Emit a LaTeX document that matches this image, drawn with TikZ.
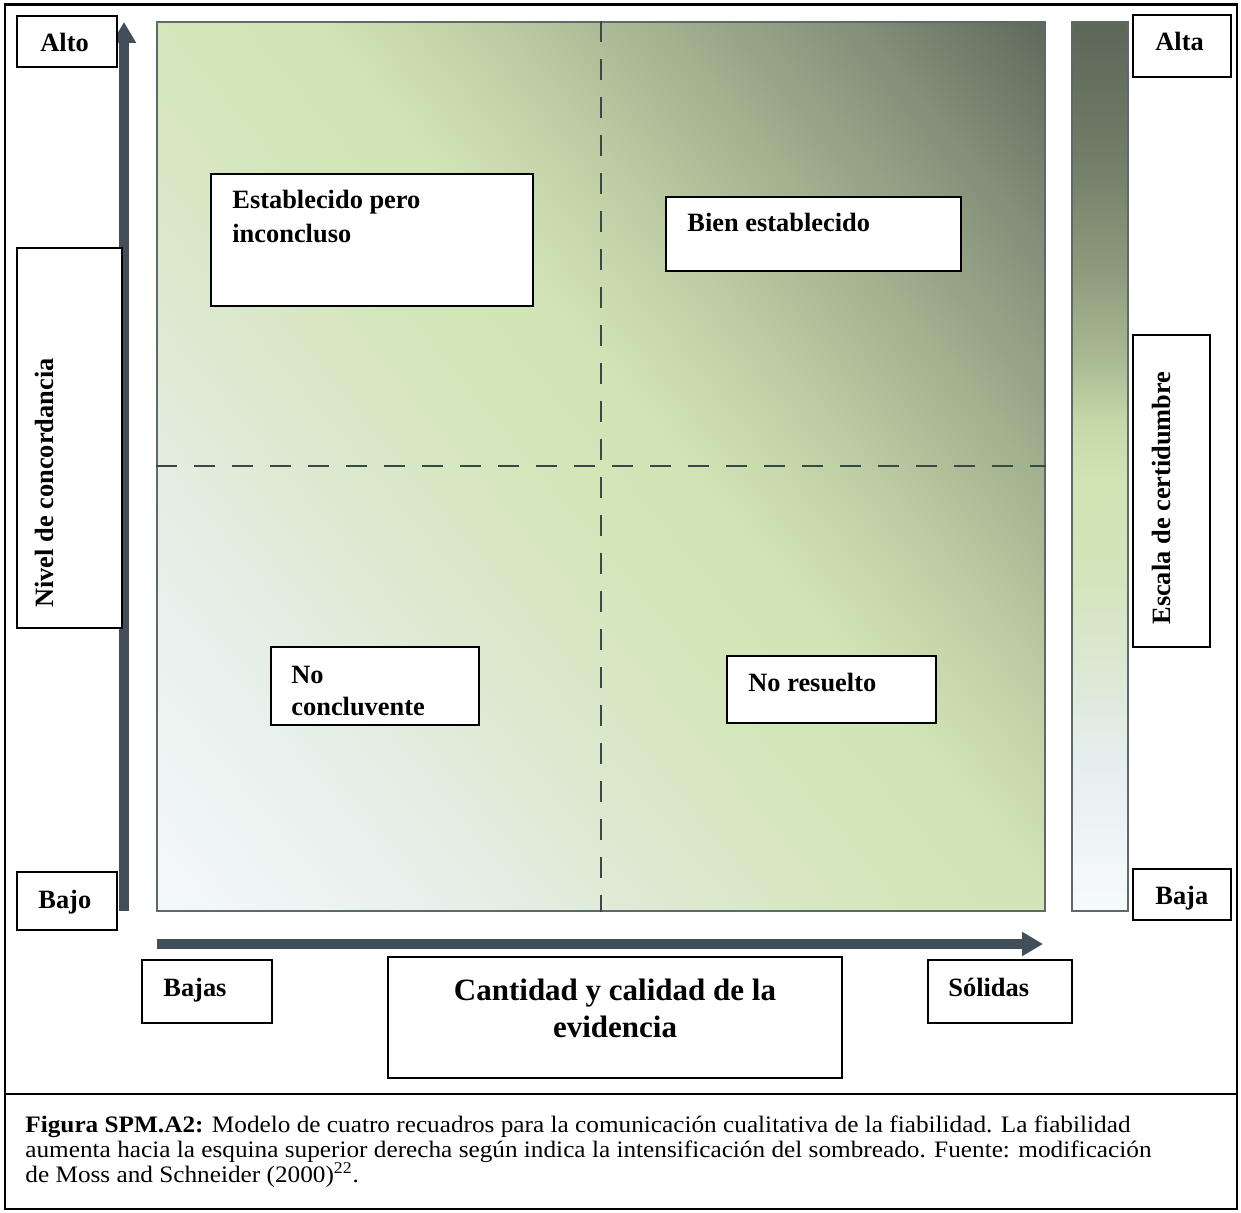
\documentclass[tikz,border=0pt]{standalone}
\usepackage{graphicx}
\usepackage{fontspec}
\setmainfont{Liberation Serif}
\usetikzlibrary{arrows.meta,fit}
\definecolor{arrowc}{HTML}{434F58}
\definecolor{sqborder}{HTML}{5E6A6A}
\definecolor{dashc}{HTML}{3B4646}
% main square gradient colours (bottom-left -> top-right)
\definecolor{g0}{HTML}{F6F9FA}
\definecolor{g1}{HTML}{E8F1EE}
\definecolor{g2}{HTML}{DCE9D0}
\definecolor{g3}{HTML}{D3E6B9}
\definecolor{g4}{HTML}{D2E5B6}
\definecolor{g5}{HTML}{C0D0A6}
\definecolor{g6}{HTML}{A3B28F}
\definecolor{g7}{HTML}{83907A}
\definecolor{g8}{HTML}{5B6558}
% bar gradient colours (bottom -> top)
\definecolor{b0}{HTML}{F7FAFB}
\definecolor{b1}{HTML}{E6EFF0}
\definecolor{b2}{HTML}{DBE8D2}
\definecolor{b3}{HTML}{D3E5BB}
\definecolor{b4}{HTML}{D0E4B4}
\definecolor{b5}{HTML}{C4D8A8}
\definecolor{b6}{HTML}{A9BA93}
\definecolor{b7}{HTML}{8D9B7C}
\definecolor{b8}{HTML}{707D68}
\definecolor{b9}{HTML}{5C6758}
\pgfdeclarehorizontalshading{sqshade}{100bp}{color(0bp)=(g0); color(25bp)=(g0); color(33.3bp)=(g1); color(41.3bp)=(g2); color(48.4bp)=(g3); color(52.4bp)=(g4); color(57.1bp)=(g5); color(62.7bp)=(g6); color(68.7bp)=(g7); color(75bp)=(g8); color(100bp)=(g8)}
\pgfdeclareverticalshading{barshade}{100bp}{color(0bp)=(b0); color(25bp)=(b0); color(33bp)=(b1); color(39bp)=(b2); color(44bp)=(b3); color(49bp)=(b4); color(52.5bp)=(b5); color(56bp)=(b6); color(61bp)=(b7); color(67.5bp)=(b8); color(75bp)=(b9); color(100bp)=(b9)}
\tikzset{
  box/.style={draw=black, line width=1pt, fill=white, inner sep=0pt},
  lbl/.style={font=\fontsize{13.2}{15}\selectfont\bfseries, inner sep=0pt, anchor=base west},
  biglbl/.style={font=\fontsize{15.5}{18}\selectfont\bfseries, inner sep=0pt, anchor=base},
  caplbl/.style={font=\fontsize{11.8}{12.5}\selectfont, inner sep=0pt, anchor=base west},
  bigarrow/.style={draw=arrowc, line width=4.75pt, -{Triangle[length=10.5pt,width=11.5pt]}},
  quad/.style={draw=dashc, line width=1pt, dash pattern=on 10.5pt off 8.5pt},
  frameline/.style={draw=black, line width=1.1pt}
}
\newcommand{\capwide}[1]{\scalebox{1.07}[1]{#1}}
\begin{document}
\begin{tikzpicture}[x=0.5pt,y=-0.5pt]
\useasboundingbox (0,0) rectangle (1241,1213);
% outer frame
\coordinate (fA) at (5,4.5);
\coordinate (fB) at (1237,1209);
\node[frameline, fit=(fA)(fB), inner sep=0pt] (frame) {};
\coordinate (sepL) at (5,1094);
\coordinate (sepR) at (1237,1094);
\draw[frameline] (sepL) -- (sepR);

% main square with diagonal shading
\coordinate (sqA) at (157,22);
\coordinate (sqB) at (1045,911);
\coordinate (sqc) at (601,466.5);
\begin{scope}
  \clip (sqA) rectangle (sqB);
  \begin{scope}[transform canvas={rotate around={40:(sqc)}}]
    \shade[shading=sqshade] ([shift={(-640,-640)}]sqc) rectangle ([shift={(640,640)}]sqc);
  \end{scope}
\end{scope}
\node[draw=sqborder, line width=0.9pt, fit=(sqA)(sqB), inner sep=0pt] (sq) {};
\draw[quad] (sq.north) -- (sq.south);
\draw[quad] (sq.west) -- (sq.east);

% certainty bar
\coordinate (barA) at (1072,22);
\coordinate (barB) at (1128,911);
\node[draw=sqborder, line width=0.9pt, shade, shading=barshade, fit=(barA)(barB), inner sep=0pt] (bar) {};

% axes arrows
\coordinate (vA0) at (124,911);
\coordinate (vA1) at (124,22);
\draw[bigarrow] (vA0) -- (vA1);
\coordinate (hA0) at (157,944);
\coordinate (hA1) at (1043,944);
\draw[bigarrow] (hA0) -- (hA1);

% boxes
\coordinate (c1a) at (17,16);   \coordinate (c1b) at (117,67);
\node[box, fit=(c1a)(c1b)] (bAlto) {};
\node[lbl] (tAlto) at (40,52) {Alto};

\coordinate (c2a) at (17,872);  \coordinate (c2b) at (117,930);
\node[box, fit=(c2a)(c2b)] (bBajo) {};
\node[lbl] (tBajo) at (38,908) {Bajo};

\coordinate (c3a) at (17,248);  \coordinate (c3b) at (122,628);
\node[box, fit=(c3a)(c3b)] (bNivel) {};
\node[lbl, rotate=90] (tNivel) at (53,608) {Nivel de concordancia};

\coordinate (c4a) at (1133,15); \coordinate (c4b) at (1231,77);
\node[box, fit=(c4a)(c4b)] (bAlta) {};
\node[lbl] (tAlta) at (1155,51) {Alta};

\coordinate (c5a) at (1133,869); \coordinate (c5b) at (1231,920);
\node[box, fit=(c5a)(c5b)] (bBaja) {};
\node[lbl] (tBaja) at (1155,904) {Baja};

\coordinate (c6a) at (1133,335); \coordinate (c6b) at (1210,647);
\node[box, fit=(c6a)(c6b)] (bEscala) {};
\node[lbl, rotate=90] (tEscala) at (1170,625) {Escala de certidumbre};

\coordinate (c7a) at (142,960); \coordinate (c7b) at (272,1023);
\node[box, fit=(c7a)(c7b)] (bBajas) {};
\node[lbl] (tBajas) at (163,996) {Bajas};

\coordinate (c8a) at (928,960); \coordinate (c8b) at (1072,1023);
\node[box, fit=(c8a)(c8b)] (bSolidas) {};
\node[lbl] (tSolidas) at (948,996) {Sólidas};

\coordinate (c9a) at (388,957); \coordinate (c9b) at (842,1078);
\node[box, fit=(c9a)(c9b)] (bCant) {};
\node[biglbl] (tCant1) at (615,1000) {Cantidad y calidad de la};
\node[biglbl] (tCant2) at (615,1037) {evidencia};

\coordinate (c10a) at (211,174); \coordinate (c10b) at (533,306);
\node[box, fit=(c10a)(c10b)] (bEst) {};
\node[lbl] (tEst1) at (232,209) {Establecido pero};
\node[lbl] (tEst2) at (232,243) {inconcluso};

\coordinate (c11a) at (666,197); \coordinate (c11b) at (961,271);
\node[box, fit=(c11a)(c11b)] (bBien) {};
\node[lbl] (tBien) at (687,232) {Bien establecido};

\coordinate (c12a) at (271,647); \coordinate (c12b) at (479,725);
\node[box, fit=(c12a)(c12b)] (bNoC) {};
\node[lbl] (tNoC1) at (291,683) {No};
\node[lbl] (tNoC2) at (291,715) {concluvente};

\coordinate (c13a) at (727,656); \coordinate (c13b) at (936,723);
\node[box, fit=(c13a)(c13b)] (bNoR) {};
\node[lbl] (tNoR) at (748,691) {No resuelto};

% caption
\node[caplbl] (cap1) at (25,1132) {\capwide{\textbf{Figura SPM.A2:} Modelo de cuatro recuadros para la comunicación cualitativa de la fiabilidad. La fiabilidad}};
\node[caplbl] (cap2) at (25,1157) {\capwide{aumenta hacia la esquina superior derecha según indica la intensificación del sombreado. Fuente: modificación}};
\node[caplbl] (cap3) at (25,1182) {\capwide{de Moss and Schneider (2000)\textsuperscript{22}.}};
\end{tikzpicture}
\end{document}
